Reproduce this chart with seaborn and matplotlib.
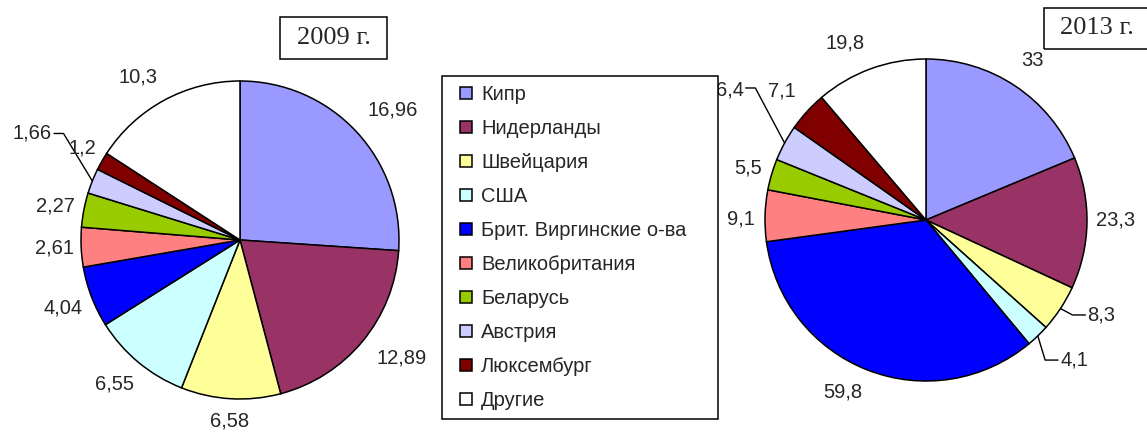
import matplotlib
matplotlib.use("Agg")
import numpy as np
import matplotlib.pyplot as plt
from matplotlib.lines import Line2D
from matplotlib.patches import Rectangle
import seaborn as sns

# data
countries = ["Кипр", "Нидерланды", "Швейцария", "США", "Брит. Виргинские о-ва",
             "Великобритания", "Беларусь", "Австрия", "Люксембург", "Другие"]
colors = ["#9999FF", "#993366", "#FFFF99", "#CCFFFF", "#0000FF",
          "#FF8080", "#99CC00", "#CCCCFF", "#800000", "#FFFFFF"]
values_2009 = [16.96, 12.89, 6.58, 6.55, 4.04, 2.61, 2.27, 1.66, 1.2, 10.3]
values_2013 = [33, 23.3, 8.3, 4.1, 59.8, 9.1, 5.5, 6.4, 7.1, 19.8]
years = ["2009 г.", "2013 г."]

sns.set_theme(style="white")
plt.rcParams["font.family"] = ["Liberation Sans", "DejaVu Sans"]

W, H = 1147, 432
fig = plt.figure(figsize=(W / 100, H / 100), dpi=100)
fig.patch.set_facecolor("white")

# label layout: distance from centre (in radii), angle nudge (deg), leader-line labels
dist_2009 = [1.26, 1.26, 1.14, 1.2, 1.19, 1.17, 1.18, 1.2, 1.15, 1.21]
nudge_2009 = [-2.6, 3.5, 0, -1.3, 0, 0, 0.6, 0, -0.7, 3.4]
leaders_2009 = {7: {"text": (-1.31, 0.67), "path": [(-1.11, 0.67), (-1.17, 0.67)]}}
dist_2013 = [1.19, 1.18, 1.2, 1.2, 1.19, 1.15, 1.15, 1.2, 1.2, 1.21]
nudge_2013 = [0, 1.1, 0, 0, -4.6, 1.1, 0, 0, 0.5, 4.3]
leaders_2013 = {
    2: {"text": (1.09, -0.59), "path": [(0.91, -0.59), (0.99, -0.59)]},
    3: {"text": (0.92, -0.87), "path": [(0.74, -0.87), (0.82, -0.87)]},
    7: {"text": (-1.22, 0.81), "path": [(-1.06, 0.82), (-1.12, 0.82)]},
}
FS = 14.5


def pie_axes(cx, cy, r, pad=1.1):
    # pixel centre / radius -> axes with data unit == radius
    rr = r * pad
    ax = fig.add_axes([(cx - rr) / W, (H - cy - rr) / H, 2 * rr / W, 2 * rr / H])
    return ax


def draw_pie(ax, values, dist, nudge, leaders):
    wedges, _ = ax.pie(values, colors=colors, startangle=90, counterclock=False,
                       radius=1, wedgeprops=dict(edgecolor="black", linewidth=1.1))
    for i, (w, v) in enumerate(zip(wedges, values)):
        ang = np.deg2rad((w.theta1 + w.theta2) / 2)
        txt = f"{v:g}".replace(".", ",")
        if i in leaders:
            ld = leaders[i]
            pts = [(np.cos(ang), np.sin(ang))] + ld["path"]
            xs, ys = zip(*pts)
            ax.plot(xs, ys, color="black", lw=1.0, clip_on=False)
            ax.text(*ld["text"], txt, ha="center", va="center", fontsize=FS, clip_on=False)
        else:
            a = ang + np.deg2rad(nudge[i])
            ax.text(dist[i] * np.cos(a), dist[i] * np.sin(a), txt, ha="center",
                    va="center", fontsize=FS, clip_on=False)
    ax.set_xlim(-1.1, 1.1)
    ax.set_ylim(-1.1, 1.1)
    ax.axis("off")


ax1 = pie_axes(240, 240, 159)
draw_pie(ax1, values_2009, dist_2009, nudge_2009, leaders_2009)
ax2 = pie_axes(926, 220, 161)
draw_pie(ax2, values_2013, dist_2013, nudge_2013, leaders_2013)

# year boxes
for (x0, y0, bw, bh), year in zip([(280, 17, 107, 42), (1044, 8, 110, 41)], years):
    fig.add_artist(Rectangle((x0 / W, 1 - (y0 + bh) / H), bw / W, bh / H,
                             transform=fig.transFigure, fill=False,
                             edgecolor="black", linewidth=1.1))
    fig.text((x0 + bw / 2 - (2 if year.startswith("2013") else 0)) / W,
             1 - (y0 + bh / 2) / H, year, ha="center", va="center",
             fontsize=19, family="Liberation Serif")

handles = [Line2D([], [], marker="s", linestyle="none", markersize=8.5,
                  markerfacecolor=c, markeredgecolor="black", markeredgewidth=1.1)
           for c in colors]
leg = fig.legend(handles, countries, loc="upper left",
                 bbox_to_anchor=(442 / W, 1 - (76 + 343) / H, 276 / W, 343 / H),
                 mode="expand", borderaxespad=0, borderpad=0.45, labelspacing=0.745,
                 handlelength=1.5, handletextpad=0.0, fontsize=FS,
                 frameon=True, fancybox=False, framealpha=1, edgecolor="black")
leg.get_frame().set_linewidth(1.1)

fig.savefig("out.png", dpi=100)
